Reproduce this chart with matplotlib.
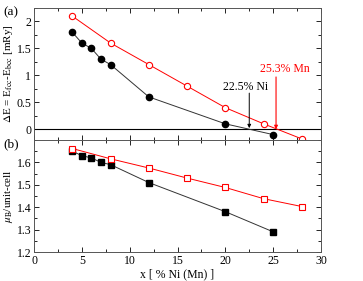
import matplotlib
matplotlib.use("Agg")
import matplotlib.pyplot as plt
from matplotlib.ticker import MultipleLocator

plt.rcParams['font.family'] = ['Liberation Serif', 'DejaVu Serif']
plt.rcParams['mathtext.fontset'] = 'stix'

# Panel (a): energy difference
x_ni_a = [4, 5, 6, 7, 8, 12, 20, 25]
dE_ni = [1.8, 1.6, 1.5, 1.3, 1.2, 0.6, 0.1, -0.1]
x_mn_a = [4, 8, 12, 16, 20, 24, 28]
dE_mn = [2.1, 1.6, 1.2, 0.8, 0.4, 0.1, -0.18]

# Panel (b): magnetic moment
x_ni_b = [4, 5, 6, 7, 8, 12, 20, 25]
mu_ni = [1.65, 1.63, 1.62, 1.60, 1.59, 1.51, 1.38, 1.29]
x_mn_b = [4, 8, 12, 16, 20, 24, 28]
mu_mn = [1.662, 1.616, 1.575, 1.53, 1.488, 1.438, 1.403]

ni_label = "22.5% Ni"
mn_label = "25.3% Mn"
ni_x0 = 22.5
mn_x0 = 25.3

fig = plt.figure(figsize=(3.63, 2.81), dpi=100)
axa = fig.add_axes([0.0937, 0.5018, 0.7906, 0.4697])
axb = fig.add_axes([0.0937, 0.1032, 0.7906, 0.3986])

red = '#ff0000'
for ax in (axa, axb):
    ax.set_xlim(0, 30)
    ax.xaxis.set_major_locator(MultipleLocator(5))
    ax.xaxis.set_minor_locator(MultipleLocator(2.5))
    ax.tick_params(which='both', direction='in', top=True, right=True,
                   labelsize=8.5, width=0.6, pad=2)
    ax.tick_params(which='major', length=3.5)
    ax.tick_params(which='minor', length=2)
    for s in ax.spines.values():
        s.set_linewidth(0.7)
        s.set_color('#555555')

# panel (a)
axa.axhline(0, color='black', lw=0.8)
axa.plot(x_ni_a, dE_ni, '-', color='#333333', lw=0.7)
axa.plot(x_ni_a, dE_ni, 'o', color='black', ms=4.5, clip_on=False)
axa.plot(x_mn_a, dE_mn, '-', color=red, lw=0.7)
axa.plot(x_mn_a, dE_mn, 'o', mfc='white', mec=red, mew=0.8, ms=4.5, clip_on=False)
axa.set_ylim(-0.2, 2.25)
axa.set_yticks([0, 0.5, 1, 1.5, 2])
axa.set_yticklabels(['0', '0.5', '1', '1.5', '2'])
axa.yaxis.set_minor_locator(MultipleLocator(0.25))
axa.tick_params(labelbottom=False)
axa.set_ylabel(r'$\Delta$E = E$_{\rm fcc}$-E$_{\rm bcc}$ [mRy]', fontsize=8, labelpad=1)

axa.text(22.1, 0.78, ni_label, ha='center', va='center', fontsize=8.5, color='black')
axa.annotate('', xy=(ni_x0, 0.02), xytext=(ni_x0, 0.67),
             arrowprops=dict(arrowstyle='-|>', color='black', lw=0.7,
                             mutation_scale=5, shrinkA=0, shrinkB=0))
axa.text(26.2, 1.11, mn_label, ha='center', va='center', fontsize=8.5, color=red)
axa.annotate('', xy=(mn_x0, 0.0), xytext=(mn_x0, 0.97),
             arrowprops=dict(arrowstyle='-|>', color=red, lw=0.8,
                             mutation_scale=5, shrinkA=0, shrinkB=0))

# panel (b)
axb.plot(x_ni_b, mu_ni, '-', color='#333333', lw=0.7)
axb.plot(x_ni_b, mu_ni, 's', color='black', ms=4)
axb.plot(x_mn_b, mu_mn, '-', color=red, lw=0.7)
axb.plot(x_mn_b, mu_mn, 's', mfc='white', mec=red, mew=0.8, ms=4, clip_on=False)
axb.set_ylim(1.2, 1.7)
axb.set_yticks([1.2, 1.3, 1.4, 1.5, 1.6])
axb.set_yticklabels(['1.2', '1.3', '1.4', '1.5', '1.6'])
axb.yaxis.set_minor_locator(MultipleLocator(0.05))
axb.set_ylabel(r'$\mu_{\rm B}$/unit-cell', fontsize=8, labelpad=1)
axb.set_xlabel('x [ % Ni (Mn) ]', fontsize=8.5, labelpad=1)

fig.text(0.01, 0.955, '(a)', fontsize=9.5, va='center')
fig.text(0.01, 0.485, '(b)', fontsize=9.5, va='center')

fig.savefig('out.png', dpi=100)
